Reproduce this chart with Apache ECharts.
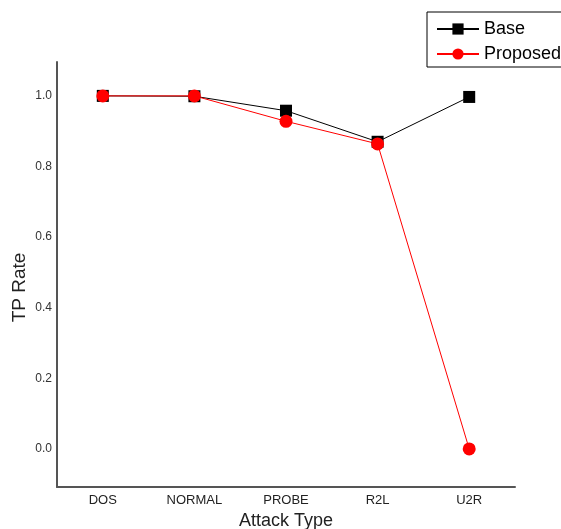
<!DOCTYPE html>
<html><head><meta charset="utf-8">
<script src="https://cdn.jsdelivr.net/npm/echarts@6/dist/echarts.min.js"></script>
<style>html,body{margin:0;padding:0;background:#fff}#c{width:561px;height:529px}</style>
</head><body><div id="c"></div>
<script>
const categories = ['DOS', 'NORMAL', 'PROBE', 'R2L', 'U2R'];
const baseValues = [1.0, 0.999, 0.958, 0.870, 0.997];
const proposedValues = [1.0, 1.0, 0.928, 0.864, 0.0];
const yTickValues = [0.0, 0.2, 0.4, 0.6, 0.8, 1.0];

const chart = echarts.init(document.getElementById('c'), null, {renderer: 'canvas'});
chart.setOption({
  animation: false,
  backgroundColor: '#fff',
  grid: {left: 57, right: 46, top: 62, bottom: 42, containLabel: false, outerBoundsMode: 'none'},
  legend: {
    left: 427, top: 12, orient: 'vertical',
    borderColor: '#000', borderWidth: 1, padding: [8, 10, 4, 9],
    itemWidth: 42, itemHeight: 14, itemGap: 7,
    textStyle: {fontFamily: 'Liberation Sans', fontSize: 18, color: '#000'},
    data: ['Base', 'Proposed']
  },
  xAxis: {
    type: 'category', data: categories, boundaryGap: true,
    name: 'Attack Type', nameLocation: 'middle', nameGap: 25, nameMoveOverlap: false,
    nameTextStyle: {fontFamily: 'Liberation Sans', fontSize: 18, color: '#222'},
    axisLine: {onZero: false, lineStyle: {color: '#555', width: 2}},
    axisTick: {show: false},
    axisLabel: {fontFamily: 'Liberation Sans', fontSize: 13, fontWeight: 500, color: '#222', margin: 7},
    splitLine: {show: false}
  },
  yAxis: {
    type: 'value', min: -0.108, max: 1.096,
    name: 'TP Rate', nameLocation: 'middle', nameGap: 28, nameMoveOverlap: false,
    nameTextStyle: {fontFamily: 'Liberation Sans', fontSize: 19, color: '#222', padding: [0, 26, 0, 0]},
    axisLine: {show: true, lineStyle: {color: '#555', width: 2}},
    axisTick: {show: false},
    axisLabel: {customValues: yTickValues, formatter: v => v.toFixed(1),
      fontFamily: 'Liberation Sans', fontSize: 12, color: '#333', margin: 5},
    splitLine: {show: false}
  },
  series: [
    {name: 'Base', type: 'line', data: baseValues, symbol: 'rect', symbolSize: 12,
     itemStyle: {color: '#000'}, lineStyle: {color: '#000', width: 1}},
    {name: 'Proposed', type: 'line', data: proposedValues, symbol: 'circle', symbolSize: 13,
     itemStyle: {color: '#ff0000'}, lineStyle: {color: '#ff0000', width: 1}}
  ]
});
</script></body></html>
